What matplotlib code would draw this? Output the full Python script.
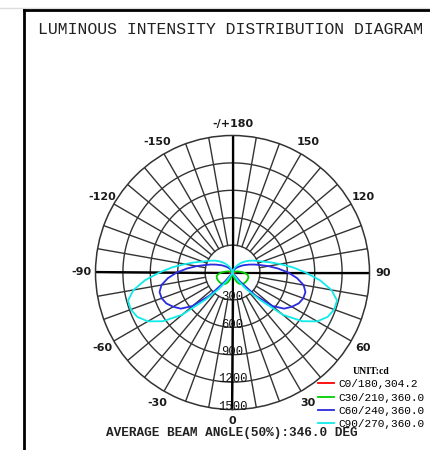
import numpy as np
import matplotlib
matplotlib.use("Agg")
import matplotlib.pyplot as plt
from matplotlib.lines import Line2D

# ---------------- data ----------------
angles_deg = [0, 5, 10, 15, 20, 25, 30, 35, 40, 45, 50, 55, 60, 65, 70, 75, 80, 85, 90,
              95, 100, 105, 110, 115, 120, 125, 130, 135, 140, 145, 150, 155, 160, 165,
              170, 175, 180]
c0_180 = [0, 0, 0, 0, 0, 0, 0, 2, 5, 8, 12, 15, 18, 20, 22, 25, 27, 29, 30,
          30, 30, 28, 25, 20, 15, 10, 5, 2, 0, 0, 0, 0, 0, 0, 0, 0, 0]
c30_210 = [0, 5, 20, 45, 80, 115, 140, 155, 165, 170, 175, 178, 180, 182, 182, 180, 170, 150, 120,
           90, 65, 45, 30, 20, 12, 6, 2, 0, 0, 0, 0, 0, 0, 0, 0, 0, 0]
c60_240 = [0, 0, 0, 0, 0, 0, 0, 20, 130, 360, 570, 690, 750, 800, 825, 827, 790, 710, 610,
           500, 400, 315, 255, 205, 165, 135, 105, 85, 65, 48, 35, 25, 15, 8, 3, 0, 0]
c90_270 = [0, 0, 0, 0, 0, 10, 40, 120, 240, 420, 720, 930, 1070, 1150, 1185, 1185, 1100, 960, 800,
           660, 530, 430, 350, 300, 260, 225, 190, 160, 130, 100, 75, 55, 35, 20, 10, 3, 0]

series_labels = ["C0/180,304.2", "C30/210,360.0", "C60/240,360.0", "C90/270,360.0"]
series_values = [c0_180, c30_210, c60_240, c90_270]
series_colors = ["#ff0000", "#00d000", "#2a2ae0", "#10eaea"]

ring_values = [300, 600, 900, 1200, 1500]
angle_ticks = [0, 30, 60, 90, 120, 150, 180, -30, -60, -90, -120, -150]
angle_labels = ["0", "30", "60", "90", "120", "150", "-/+180", "-30", "-60", "-90", "-120", "-150"]

title = "LUMINOUS INTENSITY DISTRIBUTION DIAGRAM"
footer = "AVERAGE BEAM ANGLE(50%):346.0 DEG"
unit_text = "UNIT:cd"

# ---------------- figure ----------------
W, H = 430, 450
fig = plt.figure(figsize=(W / 100, H / 100), dpi=100)
fig.patch.set_facecolor("white")

cx, cy, R = 232.5, 272.5, 137.0
ax = fig.add_axes([(cx - R) / W, (H - cy - R) / H, 2 * R / W, 2 * R / H], projection="polar")
ax.set_theta_zero_location("S")
ax.set_theta_direction(1)
ax.set_ylim(0, ring_values[-1])
ax.grid(False)
ax.set_xticks([])
ax.set_yticks([])
ax.spines["polar"].set_color("#333333")
ax.spines["polar"].set_linewidth(1.1)

grid_color = "#333333"
tt = np.linspace(0, 2 * np.pi, 721)
for rv in ring_values[:-1]:
    ax.plot(tt, np.full_like(tt, rv), color=grid_color, lw=1.0, zorder=1)
for a in range(0, 360, 10):
    ax.plot([np.deg2rad(a)] * 2, [ring_values[0], ring_values[-1]], color=grid_color, lw=1.0, zorder=1)
for a in [0, 90, 180, 270]:
    ax.plot([np.deg2rad(a)] * 2, [0, ring_values[-1]], color="black", lw=1.6, zorder=2)

# curves (mirror to the negative side)
ang = np.array(angles_deg, dtype=float)
full_ang = np.deg2rad(np.concatenate([-ang[::-1], ang[1:]]))
handles = []
for vals, col, lab in zip(series_values, series_colors, series_labels):
    v = np.array(vals, dtype=float)
    full_v = np.concatenate([v[::-1], v[1:]])
    ln, = ax.plot(full_ang, full_v, color=col, lw=1.3, zorder=3, label=lab)
    handles.append(ln)

# angle labels
for a, lab in zip(angle_ticks, angle_labels):
    rr = 1630 if a in (0, 180) else 1650
    ax.text(np.deg2rad(a), rr, lab, ha="center", va="center", fontsize=8,
            family="DejaVu Sans", fontweight="bold", color="#1a1a1a", clip_on=False)

# radial labels
for rv in ring_values:
    ax.text(0, rv - 30, str(rv), ha="center", va="center", fontsize=8.8,
            family="Liberation Mono", color="#111111", zorder=4, clip_on=False)

# legend
leg = ax.legend(handles=handles, loc="upper left", bbox_to_anchor=(318 / W, 1 - 367 / H),
                bbox_transform=fig.transFigure, frameon=False,
                prop={"family": "Liberation Mono", "size": 8},
                handlelength=1.45, handletextpad=0.35, labelspacing=0.30,
                borderpad=0, borderaxespad=0, title=unit_text,
                title_fontproperties={"family": "Liberation Serif", "weight": "bold", "size": 7})

# texts
fig.text(38 / W, 1 - 30 / H, title, ha="left", va="center", family="Liberation Mono",
         fontsize=11.9, color="#222222")
fig.text(231.5 / W, 1 - 433 / H, footer, ha="center", va="center", family="Liberation Mono",
         fontsize=9.2, fontweight="bold", color="#222222")

# frame
fig.add_artist(Line2D([0, 1], [1 - 7.5 / H] * 2, color="#dddddd", lw=1.0))
fig.add_artist(Line2D([23.5 / W, 1], [1 - 10 / H] * 2, color="black", lw=2.0))
fig.add_artist(Line2D([23.5 / W] * 2, [0, 1 - 10 / H], color="black", lw=2.0))

fig.savefig("out.png", dpi=100)
